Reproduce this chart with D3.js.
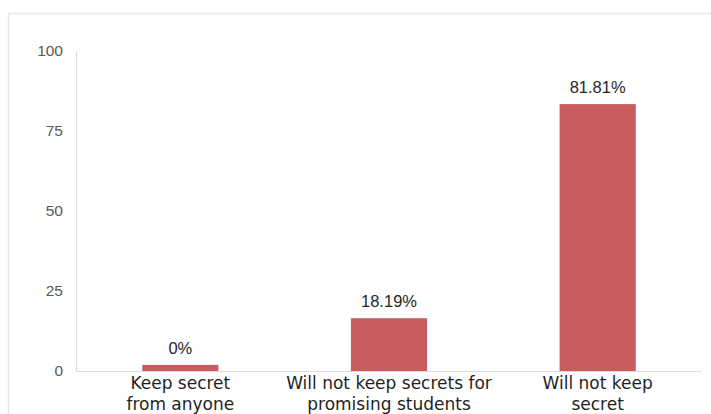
<!DOCTYPE html>
<html>
<head>
<meta charset="utf-8">
<script src="https://cdn.jsdelivr.net/npm/d3@7"></script>
<style>
  html, body { margin: 0; padding: 0; background: #fff; }
  svg { display: block; }
</style>
</head>
<body>
<svg id="chart"></svg>
<script>
// data
const categories = [
  ['Keep secret', 'from anyone'],
  ['Will not keep secrets for', 'promising students'],
  ['Will not keep', 'secret']
];
const barValues = [1.9, 16.5, 83.4];
const valueLabels = ['0%', '18.19%', '81.81%'];
const yTicks = [0, 25, 50, 75, 100];

const width = 711, height = 414;
const svg = d3.select('#chart').attr('width', width).attr('height', height);

// light frame round the chart
svg.append('path')
  .attr('d', `M8.5,${height} V13.5 H${width}`)
  .attr('fill', 'none')
  .attr('stroke', '#e6e6e6')
  .attr('stroke-width', 1.5);

const x = d3.scaleBand()
  .domain(d3.range(categories.length))
  .range([76, 702])
  .paddingInner(0.635)
  .paddingOuter(0.3175);

const y = d3.scaleLinear().domain([0, 100]).range([371, 51]);

// y axis
const yAxis = svg.append('g')
  .attr('transform', 'translate(76,0)')
  .call(d3.axisLeft(y).tickValues(yTicks).tickSize(0).tickPadding(13));
yAxis.select('.domain').attr('stroke', '#dcdcdc').attr('stroke-width', 1.2);
yAxis.selectAll('text')
  .attr('fill', '#595959')
  .style('font-family', 'Liberation Sans, Arial, sans-serif')
  .style('font-size', '15.5px');

// bars
svg.selectAll('rect.bar')
  .data(barValues)
  .enter()
  .append('rect')
  .attr('class', 'bar')
  .attr('x', (d, i) => x(i))
  .attr('width', x.bandwidth())
  .attr('y', d => y(d))
  .attr('height', d => y(0) - y(d))
  .attr('fill', '#c95b5d');

// baseline
svg.append('line')
  .attr('x1', 76).attr('x2', 702)
  .attr('y1', y(0) + 0.5).attr('y2', y(0) + 0.5)
  .attr('stroke', '#dcdcdc')
  .attr('stroke-width', 1.2);

// value labels
svg.selectAll('text.value')
  .data(barValues)
  .enter()
  .append('text')
  .attr('class', 'value')
  .attr('x', (d, i) => x(i) + x.bandwidth() / 2)
  .attr('y', d => y(d) - 11)
  .attr('text-anchor', 'middle')
  .attr('fill', '#262626')
  .style('font-family', 'Liberation Sans, Arial, sans-serif')
  .style('font-size', '16.5px');

svg.selectAll('text.value').text((d, i) => valueLabels[i]);

// category labels
const cat = svg.selectAll('text.cat')
  .data(categories)
  .enter()
  .append('text')
  .attr('class', 'cat')
  .attr('text-anchor', 'middle')
  .attr('fill', '#1f1f1f')
  .style('font-family', 'DejaVu Sans, sans-serif')
  .style('font-size', '17px');

cat.selectAll('tspan')
  .data((d, i) => d.map(t => ({ t, i })))
  .enter()
  .append('tspan')
  .attr('x', d => x(d.i) + x.bandwidth() / 2)
  .attr('y', (d, j) => 389 + j * 21)
  .text(d => d.t);
</script>
</body>
</html>
